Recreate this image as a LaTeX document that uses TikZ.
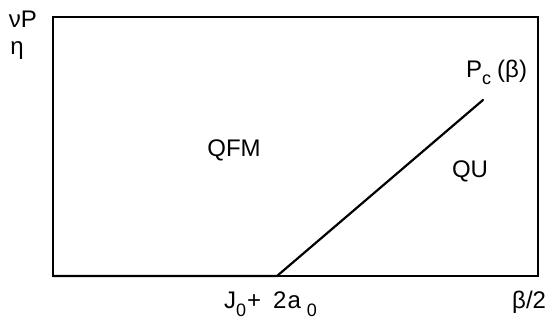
\documentclass[tikz,border=0pt]{standalone}
\usepackage{fontspec}
\setmainfont{Liberation Sans}
\usetikzlibrary{positioning}
\newcommand{\lowsub}[2]{\raisebox{-#1}{\fontsize{18}{20}\selectfont #2}}

\begin{document}
\begin{tikzpicture}[x=1pt, y=-1pt,
    lbl/.style={font=\fontsize{24}{28}\selectfont, inner sep=0pt},
    border/.style={draw, line width=1.6pt},
    phase/.style={line width=2.2pt, line cap=round}
]
\useasboundingbox (0,0) rectangle (557,323);

% frame of the diagram
\coordinate (origin) at (53,276);
\coordinate (topright) at (538,17);
\draw[border] (origin) rectangle (topright);

% phase boundary
\coordinate (jc) at (277,276);
\coordinate (pend) at (483,100);
\draw[phase] (origin) -- (jc) -- (pend);

% axis labels
\node[lbl, anchor=base] (yaxis) at (23,28) {νP};
\node[lbl, anchor=base] (eta) at (17,55) {η};
\node[lbl, anchor=base west] (jlabel) at (224,308)
    {J\lowsub{9pt}{0}\hspace{1pt}+\hspace{12pt}2\hspace{1pt}a\hspace{6pt}\lowsub{9pt}{0}};
\node[lbl, anchor=base west] (xaxis) at (512,308) {β/2};

% phases
\node[lbl, anchor=base] (qfm) at (234,157) {QFM};
\node[lbl, anchor=base] (qu) at (470,178) {QU};
\node[lbl, anchor=base west] (pc) at (466,78) {P\lowsub{7pt}{c}\hspace{6pt}(β)};

\end{tikzpicture}
\end{document}
